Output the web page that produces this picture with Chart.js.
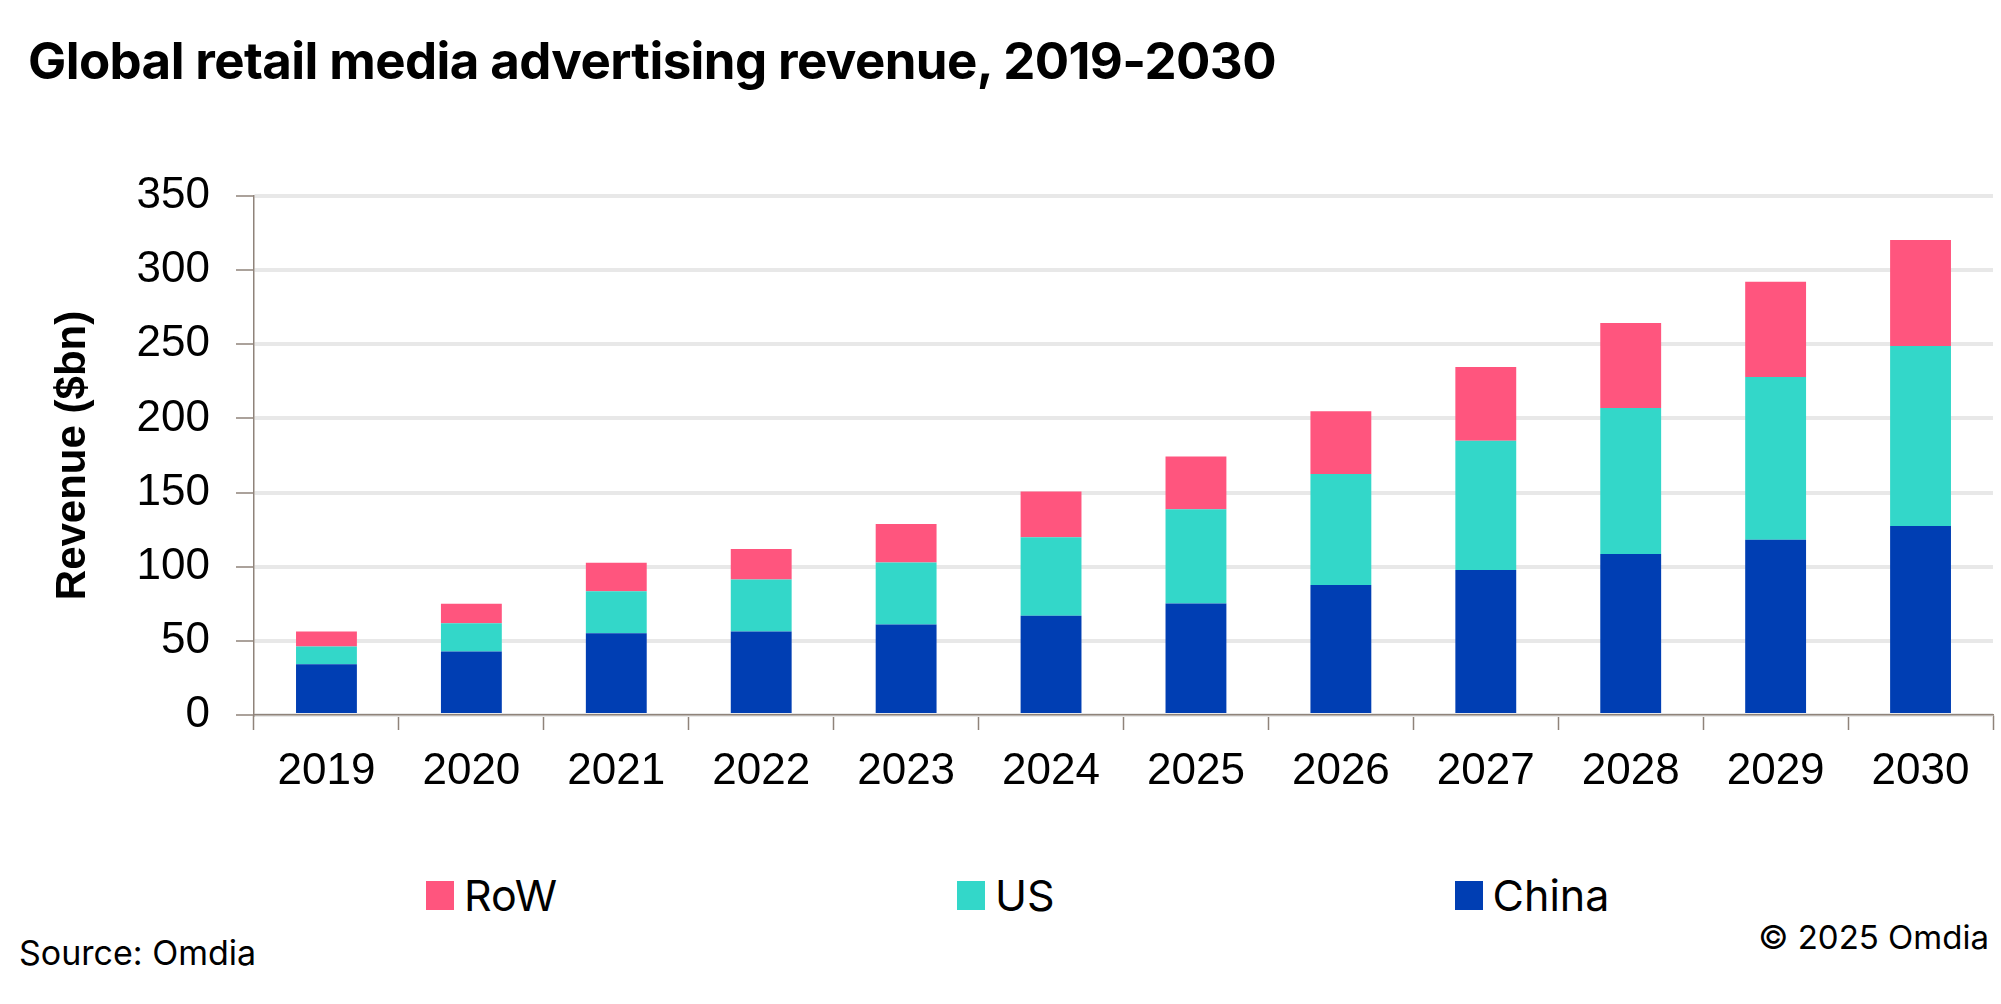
<!DOCTYPE html>
<html>
<head>
<meta charset="utf-8">
<script src="https://cdn.jsdelivr.net/npm/chart.js@4.4.1/dist/chart.umd.min.js"></script>
<style>
  html, body { margin: 0; padding: 0; background: #fff; }
  #page { position: relative; width: 2001px; height: 1004px; overflow: hidden; font-family: Inter, 'Liberation Sans', Arial, sans-serif; color: #000; }
  #title { position: absolute; left: 28px; top: 30px; font-weight: 700; font-size: 51px; letter-spacing: -0.6px; white-space: nowrap; }
  #chartWrap { position: absolute; left: 0; top: 0; width: 2001px; height: 800px; }
  #legend { position: absolute; left: 426px; top: 869px; display: flex; gap: 400px; font-size: 43px; }
  .leg-item { display: flex; align-items: center; }
  .leg-box { width: 28px; height: 29px; margin-right: 10px; }
  #source { position: absolute; left: 19px; top: 932px; font-size: 34px; }
  #copyright { position: absolute; right: 12px; top: 917px; font-size: 33px; }
</style>
</head>
<body>
<div id="page">
  <div id="title">Global retail media advertising revenue, 2019-2030</div>
  <div id="chartWrap"><canvas id="chart"></canvas></div>
  <div id="legend"></div>
  <div id="source">Source: Omdia</div>
  <div id="copyright">© 2025 Omdia</div>
</div>
<script>
const years = ['2019', '2020', '2021', '2022', '2023', '2024', '2025', '2026', '2027', '2028', '2029', '2030'];

// stacked segment values ($bn)
const china = [34.2, 42.8, 55.2, 56.3, 61.0, 66.9, 75.2, 87.6, 97.7, 108.5, 118.1, 127.4];
const us = [12.0, 19.1, 28.2, 35.1, 41.9, 52.9, 63.5, 74.9, 87.3, 98.5, 109.8, 121.4];
const row = [10.1, 13.1, 19.3, 20.5, 25.9, 30.9, 35.6, 42.4, 49.6, 57.3, 64.3, 71.6];

const seriesNames = ['China', 'US', 'RoW'];
const seriesColors = ['#003EB3', '#33D7C9', '#FF557E'];
const yTicks = [0, 50, 100, 150, 200, 250, 300, 350];

const AXIS_COLOR = '#8F837A';
const GRID_COLOR = '#E8E8E8';
const TICK_FONT = { family: "'Liberation Sans', Arial, sans-serif", size: 44 };

const seriesData = [china, us, row];

const datasets = seriesNames.map((name, i) => ({
  label: name,
  data: seriesData[i],
  backgroundColor: seriesColors[i],
  borderWidth: 0,
  barPercentage: 0.42,
  categoryPercentage: 1,
}));

new Chart(document.getElementById('chart'), {
  type: 'bar',
  data: { labels: years, datasets },
  options: {
    responsive: true,
    maintainAspectRatio: false,
    animation: false,
    layout: { padding: { top: 196, right: 8, left: 0, bottom: 0 } },
    plugins: {
      legend: { display: false },
      tooltip: { enabled: false },
    },
    scales: {
      x: {
        stacked: true,
        afterFit: (scale) => { scale.height = 85; },
        grid: {
          offset: true,
          drawOnChartArea: false,
          drawTicks: true,
          tickLength: 15,
          tickColor: AXIS_COLOR,
          tickWidth: 1.5,
        },
        border: { color: AXIS_COLOR, width: 1.5 },
        ticks: { color: '#000', font: TICK_FONT, padding: 15, maxRotation: 0 },
      },
      y: {
        stacked: true,
        min: 0,
        max: 350,
        afterFit: (scale) => { scale.width = 254; },
        afterBuildTicks: (scale) => { scale.ticks = yTicks.map((v) => ({ value: v })); },
        grid: {
          color: GRID_COLOR,
          lineWidth: 4,
          drawTicks: true,
          tickLength: 18,
          tickColor: AXIS_COLOR,
          tickWidth: 1.5,
        },
        border: { color: AXIS_COLOR, width: 1.5 },
        ticks: { color: '#000', font: TICK_FONT, padding: 26 },
        title: {
          display: true,
          text: 'Revenue ($bn)',
          color: '#000',
          font: { family: "'Liberation Sans', Arial, sans-serif", size: 42, weight: 'bold' },
          padding: { top: 48, bottom: 0 },
        },
      },
    },
  },
});

// legend, listed in reverse stacking order like the original
const legendEl = document.getElementById('legend');
seriesNames.slice().reverse().forEach((name) => {
  const idx = seriesNames.indexOf(name);
  const item = document.createElement('div');
  item.className = 'leg-item';
  item.innerHTML = `<span class="leg-box" style="background:${seriesColors[idx]}"></span><span>${name}</span>`;
  legendEl.appendChild(item);
});
</script>
</body>
</html>
